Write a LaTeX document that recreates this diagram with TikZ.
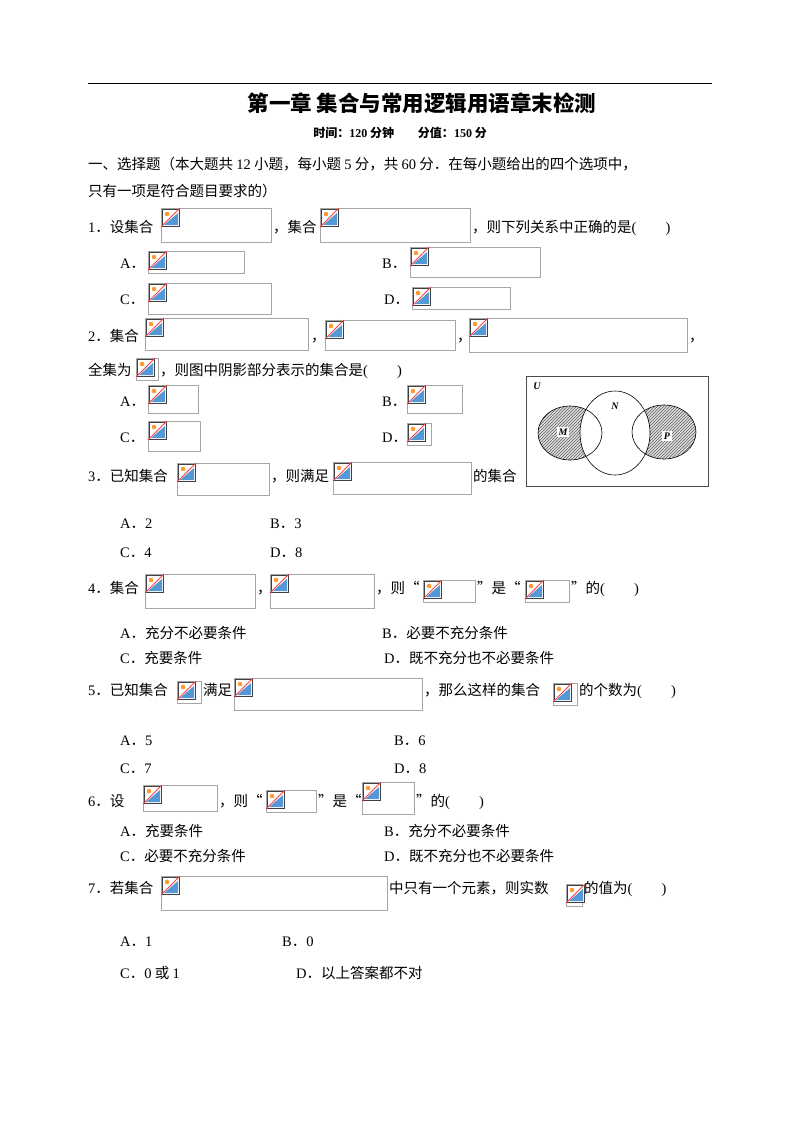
\documentclass[tikz,border=0pt]{standalone}
\usepackage{fontspec}
\setmainfont{Noto Sans CJK SC}
\newfontfamily\latf{Liberation Serif}
\newcommand\lat[1]{{\latf #1}}
\newcommand\opt[1]{\lat{#1}．}
\usetikzlibrary{patterns}
\tikzset{
  t/.style={anchor=base west,inner sep=0pt,font=\fontsize{14.5}{16}\selectfont},
  phbox/.style={draw=black!35,line width=0.8pt},
}
\newcommand\ph[4]{%
  \draw[phbox] (#1,#2) rectangle ++(#3,#4);
  \begin{scope}[shift={(#1+1,#2+1)}]
    \fill[white] (0,0) rectangle (17,17);
    \fill[cyan!60!blue!70] (2,16) -- (16,4) -- (16,16) -- cycle;
    \fill[orange!80] (5,5) circle (2.3);
    \draw[black!75,line width=0.9pt] (0,0) rectangle (17,17);
    \draw[red!75,line width=0.9pt] (-1,18) -- (18,-1);
  \end{scope}}
\begin{document}
\begin{tikzpicture}[x=1pt,y=-1pt]
\useasboundingbox[fill=white] (0,0) rectangle (800,1130);
\draw[line width=0.8pt] (88,83) -- (712,83);
\node[font=\fontsize{21.5}{24}\selectfont\bfseries] (title) at (422,103) {第一章\ 集合与常用逻辑用语章末检测};
\node[font=\fontsize{12}{14}\selectfont\bfseries] (sub) at (400,133) {时间：\lat{\bfseries 120} 分钟\qquad 分值：\lat{\bfseries 150} 分};
\node[t] at (88,169) {一、选择题（本大题共 \lat{12} 小题，每小题 \lat{5} 分，共 \lat{60} 分．在每小题给出的四个选项中，};
\node[t] at (88,196) {只有一项是符合题目要求的）};
% Q1
\node[t] at (88,232) {\opt{1}设集合}; \ph{161}{208}{110}{34}
\node[t] at (273,232) {，集合}; \ph{320}{208}{150}{34}
\node[t] at (472,232) {，则下列关系中正确的是\lat{(\qquad)}};
\node[t] at (120,268) {\opt{A}}; \ph{148}{251}{96}{22}
\node[t] at (382,268) {\opt{B}}; \ph{410}{247}{130}{30}
\node[t] at (120,304) {\opt{C}}; \ph{148}{283}{123}{31}
\node[t] at (384,304) {\opt{D}}; \ph{412}{287}{98}{22}
% Q2
\node[t] at (88,341) {\opt{2}集合}; \ph{145}{318}{163}{32}
\node[t] at (311,341) {，}; \ph{325}{320}{130}{30}
\node[t] at (457,341) {，}; \ph{469}{318}{218}{34}
\node[t] at (689,341) {，};
\node[t] at (88,375) {全集为}; \ph{136}{358}{22}{22}
\node[t] at (160,375) {，则图中阴影部分表示的集合是\lat{(\qquad)}};
\node[t] at (120,406) {\opt{A}}; \ph{148}{385}{50}{28}
\node[t] at (382,406) {\opt{B}}; \ph{407}{385}{55}{28}
\node[t] at (120,442) {\opt{C}}; \ph{148}{421}{52}{30}
\node[t] at (382,442) {\opt{D}}; \ph{407}{423}{24}{22}
% Venn
\draw[line width=0.8pt,black!70] (526,376) rectangle (708,486);
\begin{scope}
  \clip (570,433) ellipse [x radius=32,y radius=27];
  \fill[pattern=north east lines,even odd rule] (500,380) rectangle (720,480) (615,433) ellipse [x radius=35,y radius=42];
  \fill[black!25,opacity=0.5,even odd rule] (500,380) rectangle (720,480) (615,433) ellipse [x radius=35,y radius=42];
\end{scope}
\begin{scope}
  \clip (664,432) ellipse [x radius=32,y radius=27];
  \fill[pattern=north east lines,even odd rule] (500,380) rectangle (720,480) (615,433) ellipse [x radius=35,y radius=42];
  \fill[black!25,opacity=0.5,even odd rule] (500,380) rectangle (720,480) (615,433) ellipse [x radius=35,y radius=42];
\end{scope}
\draw[line width=0.6pt] (570,433) ellipse [x radius=32,y radius=27];
\draw[line width=0.6pt] (664,432) ellipse [x radius=32,y radius=27];
\draw[line width=0.6pt] (615,433) ellipse [x radius=35,y radius=42];
\node[font=\latf\itshape\bfseries\fontsize{10}{12}\selectfont] (U) at (537,386) {U};
\node[font=\latf\itshape\bfseries\fontsize{10}{12}\selectfont] (N) at (615,406) {N};
\node[font=\latf\itshape\bfseries\fontsize{10}{12}\selectfont,fill=white,inner sep=1.5pt] (M) at (563,432) {M};
\node[font=\latf\itshape\bfseries\fontsize{10}{12}\selectfont,fill=white,inner sep=1.5pt] (P) at (667,436) {P};
% Q3
\node[t] at (88,481) {\opt{3}已知集合}; \ph{177}{463}{92}{32}
\node[t] at (271,481) {，则满足}; \ph{333}{462}{138}{32}
\node[t] at (473,481) {的集合};
\node[t] at (120,528) {\opt{A}\lat{2}}; \node[t] at (270,528) {\opt{B}\lat{3}};
\node[t] at (120,557) {\opt{C}\lat{4}}; \node[t] at (270,557) {\opt{D}\lat{8}};
% Q4
\node[t] at (88,593) {\opt{4}集合}; \ph{145}{574}{110}{34}
\node[t] at (257,593) {，}; \ph{270}{574}{104}{34}
\node[t] at (376,593) {，则“}; \ph{423}{580}{52}{22}
\node[t] at (477,593) {”是“}; \ph{525}{580}{44}{22}
\node[t] at (571,593) {”的\lat{(\qquad)}};
\node[t] at (120,638) {\opt{A}充分不必要条件}; \node[t] at (382,638) {\opt{B}必要不充分条件};
\node[t] at (120,663) {\opt{C}充要条件}; \node[t] at (384,663) {\opt{D}既不充分也不必要条件};
% Q5
\node[t] at (88,695) {\opt{5}已知集合}; \ph{177}{681}{24}{22}
\node[t] at (203,695) {满足}; \ph{234}{678}{188}{32}
\node[t] at (424,695) {，那么这样的集合}; \ph{553}{683}{24}{22}
\node[t] at (579,695) {的个数为\lat{(\qquad)}};
\node[t] at (120,745) {\opt{A}\lat{5}}; \node[t] at (394,745) {\opt{B}\lat{6}};
\node[t] at (120,773) {\opt{C}\lat{7}}; \node[t] at (394,773) {\opt{D}\lat{8}};
% Q6
\node[t] at (88,806) {\opt{6}设}; \ph{143}{785}{74}{26}
\node[t] at (219,806) {，则“}; \ph{266}{790}{50}{22}
\node[t] at (318,806) {”是“}; \ph{362}{782}{52}{32}
\node[t] at (416,806) {”的\lat{(\qquad)}};
\node[t] at (120,836) {\opt{A}充要条件}; \node[t] at (384,836) {\opt{B}充分不必要条件};
\node[t] at (120,861) {\opt{C}必要不充分条件}; \node[t] at (384,861) {\opt{D}既不充分也不必要条件};
% Q7
\node[t] at (88,893) {\opt{7}若集合}; \ph{161}{876}{226}{34}
\node[t] at (389,893) {中只有一个元素，则实数}; \ph{566}{884}{16}{22}
\node[t] at (584,893) {的值为\lat{(\qquad)}};
\node[t] at (120,946) {\opt{A}\lat{1}}; \node[t] at (282,946) {\opt{B}\lat{0}};
\node[t] at (120,978) {\opt{C}\lat{0} 或 \lat{1}}; \node[t] at (296,978) {\opt{D}以上答案都不对};
\end{tikzpicture}
\end{document}
